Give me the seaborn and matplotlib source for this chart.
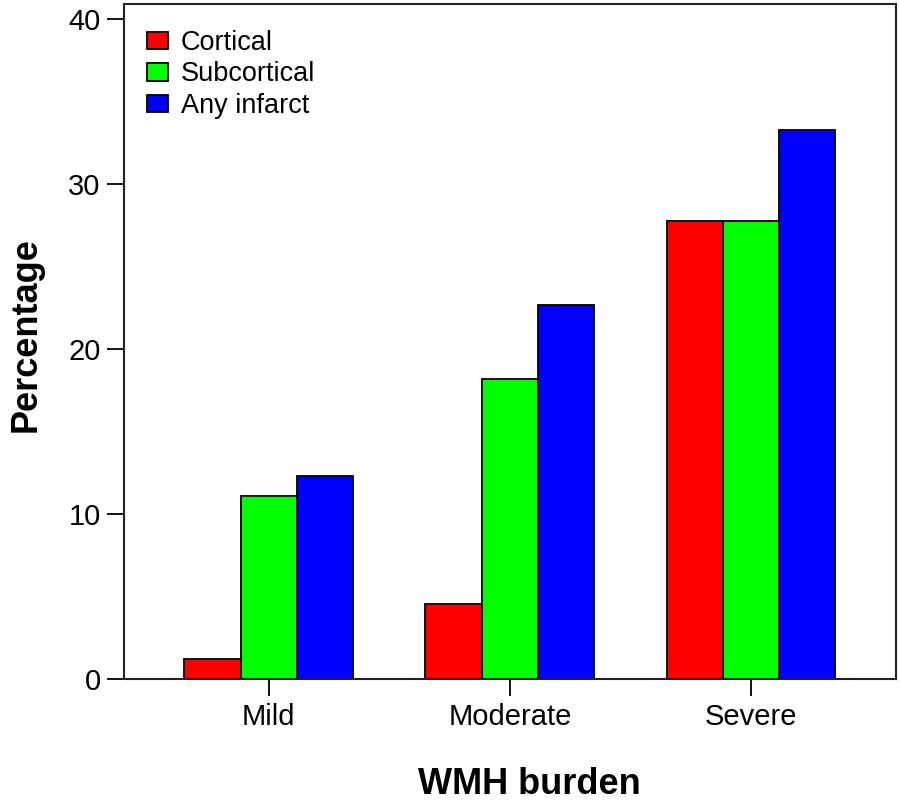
import matplotlib
matplotlib.use("Agg")
import matplotlib.pyplot as plt
import seaborn as sns
import pandas as pd

# data
burden = ["Mild", "Moderate", "Severe"]
infarct_types = ["Cortical", "Subcortical", "Any infarct"]
cortical = [1.23, 4.55, 27.8]
subcortical = [11.1, 18.2, 27.8]
any_infarct = [12.3, 22.7, 33.3]
y_ticks = [0, 10, 20, 30, 40]
colors = ["#ff0000", "#00ff00", "#0000ff"]

df = pd.DataFrame({
    "burden": burden * 3,
    "type": [t for t in infarct_types for _ in burden],
    "pct": cortical + subcortical + any_infarct,
})

sns.set_style("ticks")
plt.rcParams["font.family"] = ["Liberation Sans", "DejaVu Sans"]
plt.rcParams["text.color"] = "black"
plt.rcParams["axes.labelcolor"] = "black"
plt.rcParams["xtick.color"] = "black"
plt.rcParams["ytick.color"] = "black"

fig = plt.figure(figsize=(9, 8.02), dpi=100)
ax = fig.add_axes([0.138, 0.153, 0.857, 0.8415])

sns.barplot(data=df, x="burden", y="pct", hue="type", order=burden,
            hue_order=infarct_types, palette=colors, width=0.7,
            edgecolor="black", linewidth=1.3, saturation=1, ax=ax)

ax.set_xlim(-0.6, 2.6)
ax.set_ylim(0, 40.9)
ax.set_yticks(y_ticks)
ax.tick_params(axis="both", direction="out", length=12, width=1.3,
               labelsize=21, pad=5, color="black", labelcolor="black")
for s in ax.spines.values():
    s.set_linewidth(1.5)
    s.set_color("#222222")

ax.set_xlabel("WMH burden", fontsize=26, fontweight="bold")
ax.set_ylabel("Percentage", fontsize=26, fontweight="bold")
ax.xaxis.set_label_coords(0.525, -0.13)
ax.yaxis.set_label_coords(-0.127, 0.511)
ax.xaxis.label.set_va("top")
ax.yaxis.label.set_va("center")

leg = ax.legend(loc="upper left", bbox_to_anchor=(0.030, 0.962), frameon=False,
                fontsize=19.5, handlelength=0.78, handleheight=0.6,
                handletextpad=0.45, labelspacing=0.2, borderaxespad=0,
                borderpad=0)

fig.savefig("out.png", dpi=100)
